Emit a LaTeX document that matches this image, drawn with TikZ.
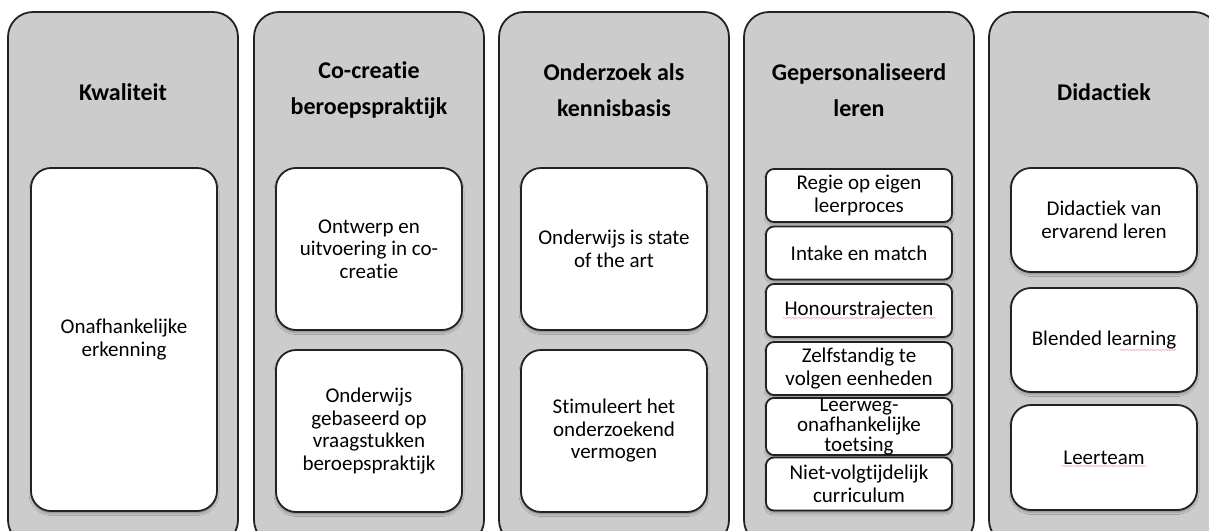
\documentclass[tikz,border=0pt]{standalone}
\usepackage{fontspec}
\setmainfont{Carlito}[Ligatures={NoCommon,NoRare}, Contextuals=NoAlternate]
\usetikzlibrary{shadows.blur,decorations.pathmorphing}
\definecolor{colgrey}{HTML}{CCCCCC}
\definecolor{edgec}{HTML}{222222}
\definecolor{squig}{HTML}{F0A8A8}
\tikzset{
  column/.style={draw=edgec, line width=1.8pt, fill=colgrey, rounded corners=25pt,
    minimum width=230pt, minimum height=533pt, inner sep=0pt},
  coltitle/.style={font=\fontsize{24}{36}\selectfont\bfseries, align=center, text=black, inner sep=0pt},
  bigbox/.style={draw=edgec, line width=1.8pt, fill=white, rounded corners=20pt,
    minimum width=186pt, inner sep=0pt, align=center, font=\fontsize{21}{22.5}\selectfont,
    blur shadow={shadow xshift=0pt, shadow yshift=-2.5pt, shadow blur radius=2pt, shadow opacity=30}},
  smallbox/.style={bigbox, rounded corners=8pt, minimum height=53pt},
  spell/.style={draw=squig, line width=0.6pt, decorate, decoration={snake, amplitude=0.5pt, segment length=3pt}}
}
\begin{document}
\begin{tikzpicture}[x=1pt, y=-1pt]
\useasboundingbox (0,0) rectangle (1209,530);
\clip (0,0) rectangle (1209,530);
% columns
\node[column] (c1) at (123,278.5) {};
\node[column] (c2) at (369,278.5) {};
\node[column] (c3) at (614,278.5) {};
\node[column] (c4) at (859,278.5) {};
\node[column] (c5) at (1104,278.5) {};
% titles
\node[coltitle] (t1) at (123,92) {Kwaliteit};
\node[coltitle] (t2) at (369,90) {Co-creatie\\beroepspraktijk};
\node[coltitle] (t3) at (614,90) {Onderzoek als\\kennisbasis};
\node[coltitle] (t4) at (859,90) {Gepersonaliseerd\\leren};
\node[coltitle] (t5) at (1104,92) {Didactiek};
% column 1
\node[bigbox, minimum height=343pt] (b11) at (124,339.5) {Onafhankelijke\\erkenning};
% column 2
\node[bigbox, minimum height=162pt] (b21) at (369,249) {Ontwerp en\\uitvoering in co-\\creatie};
\node[bigbox, minimum height=162pt] (b22) at (369,431) {Onderwijs\\gebaseerd op\\vraagstukken\\beroepspraktijk};
% column 3
\node[bigbox, minimum height=162pt] (b31) at (614,249) {Onderwijs is state\\of the art};
\node[bigbox, minimum height=162pt] (b32) at (614,431) {Stimuleert het\\onderzoekend\\vermogen};
% column 4
\node[smallbox] (b41) at (859,195.5) {Regie op eigen\\leerproces};
\node[smallbox] (b42) at (859,253) {Intake en match};
\node[smallbox] (b43) at (859,310.5) {Honourstrajecten};
\node[smallbox] (b44) at (859,368.5) {Zelfstandig te\\volgen eenheden};
\node[smallbox, font=\fontsize{21}{20}\selectfont] (b45) at (859,426.5) {Leerweg-\\onafhankelijke\\toetsing};
\node[smallbox] (b46) at (859,484) {Niet-volgtijdelijk\\curriculum};
% column 5
\node[bigbox, minimum height=104pt] (b51) at (1104,220) {Didactiek van\\ervarend leren};
\node[bigbox, minimum height=104pt] (b52) at (1104,340) {Blended learning};
\node[bigbox, minimum height=105pt] (b53) at (1104,457.5) {Leerteam};
% spell-check marks
\draw[spell] (783,318) -- (936,318);
\draw[spell] (1120,350) -- (1176,350);
\draw[spell] (1062,466) -- (1146,466);
\end{tikzpicture}
\end{document}
